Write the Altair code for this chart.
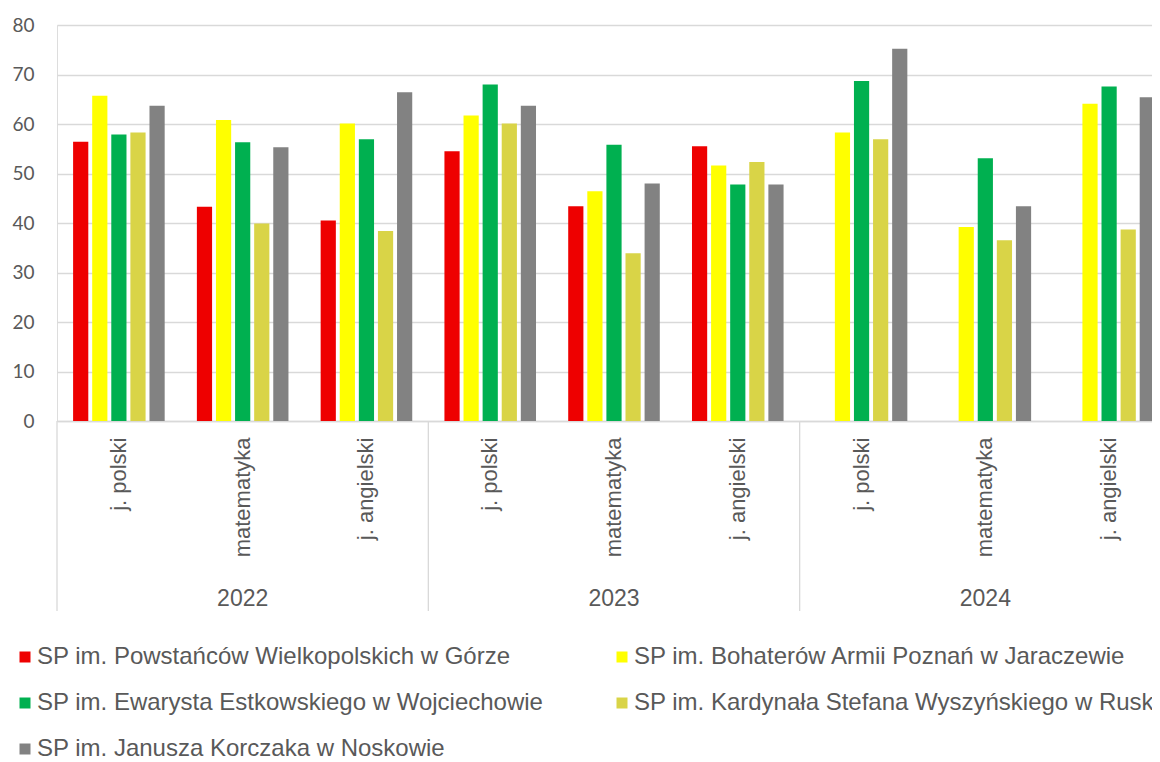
import altair as alt
import pandas as pd

years = ["2022", "2023", "2024"]
subjects = ["j. polski", "matematyka", "j. angielski"]
schools = [
    "SP im. Powstańców Wielkopolskich w Górze",
    "SP im. Bohaterów Armii Poznań w Jaraczewie",
    "SP im. Ewarysta Estkowskiego w Wojciechowie",
    "SP im. Kardynała Stefana Wyszyńskiego w Rusku",
    "SP im. Janusza Korczaka w Noskowie",
]
colors = ["#EE0000", "#FFFF00", "#00B050", "#D9D447", "#828282"]

# order: 2022 (pol, mat, ang), 2023 (pol, mat, ang), 2024 (pol, mat, ang)
gorze = [56.4, 43.3, 40.5, 54.5, 43.4, 55.5, None, None, None]
jaraczewo = [65.7, 60.8, 60.1, 61.7, 46.4, 51.6, 58.3, 39.2, 64.1]
wojciechowo = [57.9, 56.3, 56.9, 68.0, 55.8, 47.8, 68.7, 53.1, 67.6]
rusko = [58.3, 39.9, 38.4, 60.1, 33.9, 52.3, 56.9, 36.5, 38.7]
noskowo = [63.7, 55.3, 66.4, 63.7, 48.0, 47.8, 75.2, 43.4, 65.4]
series = [gorze, jaraczewo, wojciechowo, rusko, noskowo]

keys = [f"{y}|{s}" for y in years for s in subjects]

rows = []
for school, vals in zip(schools, series):
    for k, v in zip(keys, vals):
        if v is not None:
            rows.append({"key": k, "school": school, "value": v})
df = pd.DataFrame(rows)

sep_df = pd.DataFrame({"key": [f"{y}|{subjects[0]}" for y in years]})
year_df = pd.DataFrame({"key": [f"{y}|{subjects[1]}" for y in years], "year": years})

W, H = 1114, 396
TXT = "#595959"
GRID = "#d9d9d9"

x_enc = alt.X(
    "key:N",
    sort=keys,
    scale=alt.Scale(domain=keys, paddingInner=0, paddingOuter=0),
    axis=alt.Axis(
        title=None,
        labelExpr="split(datum.value, '|')[1]",
        labelAngle=-90,
        labelFont="Liberation Sans",
        labelFontSize=22,
        labelColor=TXT,
        labelPadding=16,
        labelLimit=300,
        ticks=False,
        domainColor=GRID,
        domainWidth=1.3,
        grid=False,
    ),
)

bars = alt.Chart(df).mark_bar().encode(
    x=x_enc,
    xOffset=alt.XOffset(
        "school:N",
        sort=schools,
        scale=alt.Scale(domain=schools, paddingInner=0.204, paddingOuter=0.843),
    ),
    y=alt.Y(
        "value:Q",
        scale=alt.Scale(domain=[0, 80]),
        axis=alt.Axis(
            title=None,
            values=list(range(0, 81, 10)),
            grid=True,
            gridColor=GRID,
            gridWidth=1.3,
            domain=False,
            ticks=False,
            labelFont="Lato",
            labelFontSize=19,
            labelColor=TXT,
            labelPadding=23,
        ),
    ),
    color=alt.Color(
        "school:N",
        sort=schools,
        scale=alt.Scale(domain=schools, range=colors),
        legend=alt.Legend(
            title=None,
            orient="none",
            direction="horizontal",
            legendX=-44,
            legendY=620,
            padding=0,
            columns=2,
            columnPadding=66,
            rowPadding=22,
            symbolType="square",
            symbolSize=121,
            symbolStrokeWidth=0,
            labelFont="Liberation Sans",
            labelFontSize=24,
            labelColor=TXT,
            labelOffset=0,
            labelLimit=1000,
        ),
    ),
)

seps = alt.Chart(sep_df).mark_rule(color=GRID, strokeWidth=1.3).encode(
    x=alt.X("key:N", sort=keys, bandPosition=0),
    y=alt.value(H),
    y2=alt.value(H + 190),
)

year_text = alt.Chart(year_df).mark_text(
    font="Liberation Sans", fontSize=23, color=TXT, baseline="middle", align="center"
).encode(
    x=alt.X("key:N", sort=keys),
    y=alt.value(H + 178),
    text="year:N",
)

chart = (
    alt.layer(bars, seps, year_text)
    .properties(
        width=W,
        height=H,
        autosize=alt.AutoSizeParams(type="none"),
        padding={"left": 49, "top": 17, "right": -19, "bottom": 341},
    )
    .configure_view(stroke=None)
    .configure(background="white")
)

chart.save("out.html", embed_options={"renderer": "svg", "actions": False})
